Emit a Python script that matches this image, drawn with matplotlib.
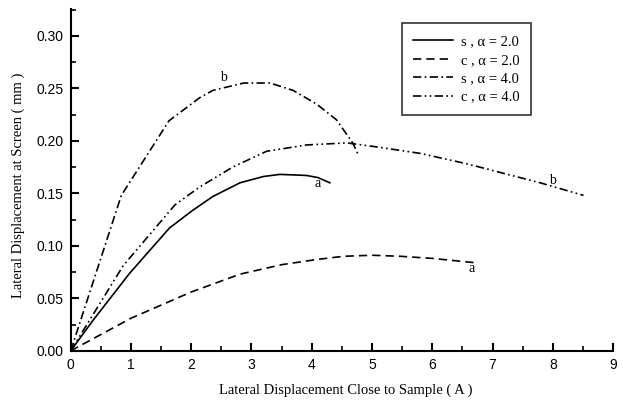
import matplotlib.pyplot as plt
from matplotlib.ticker import MultipleLocator, FormatStrFormatter

# s , alpha = 2.0 (solid)
s2_x = [0.0, 0.37, 0.98, 1.64, 2.03, 2.36, 2.81, 3.2, 3.47, 3.91, 4.1, 4.3]
s2_y = [0.0, 0.029, 0.074, 0.117, 0.134, 0.147, 0.160, 0.166, 0.168, 0.167, 0.165, 0.160]

# c , alpha = 2.0 (dashed)
c2_x = [0.0, 1.0, 2.0, 2.81, 3.5, 4.09, 4.53, 5.0, 5.47, 6.0, 6.69]
c2_y = [0.0, 0.031, 0.056, 0.073, 0.082, 0.087, 0.090, 0.091, 0.090, 0.088, 0.084]

# s , alpha = 4.0 (dash-dot)
s4_x = [0.0, 0.84, 1.63, 2.14, 2.36, 2.87, 3.31, 3.69, 4.08, 4.41, 4.68, 4.77]
s4_y = [0.0, 0.148, 0.219, 0.241, 0.248, 0.255, 0.255, 0.248, 0.235, 0.220, 0.198, 0.187]

# c , alpha = 4.0 (dash-dot-dot)
c4_x = [0.0, 0.87, 1.73, 2.14, 2.69, 3.25, 3.91, 4.58, 5.1, 5.8, 6.58, 7.79, 8.51]
c4_y = [0.0, 0.081, 0.139, 0.156, 0.175, 0.190, 0.196, 0.198, 0.194, 0.188, 0.178, 0.160, 0.148]

labels = ["s , \u03b1 = 2.0", "c , \u03b1 = 2.0", "s , \u03b1 = 4.0", "c , \u03b1 = 4.0"]

fig = plt.figure(figsize=(6.23, 4.0), dpi=100)
ax = fig.add_axes([0.1135, 0.123, 0.8705, 0.8545])

lw = 1.2
ax.plot(s2_x, s2_y, color="black", lw=lw, ls="-", label=labels[0])
ax.plot(c2_x, c2_y, color="black", lw=lw, ls=(0, (5, 3)), label=labels[1])
ax.plot(s4_x, s4_y, color="black", lw=lw, ls=(0, (5, 2, 1, 2)), label=labels[2])
ax.plot(c4_x, c4_y, color="black", lw=lw, ls=(0, (5, 2, 1, 2, 1, 2)), label=labels[3])

# curve labels
ax.text(2.53, 0.260, "b", family="Liberation Serif", fontsize=10, ha="center", va="center")
ax.text(8.0, 0.162, "b", family="Liberation Serif", fontsize=10, ha="center", va="center")
ax.text(4.1, 0.159, "a", family="Liberation Serif", fontsize=10, ha="center", va="center")
ax.text(6.65, 0.078, "a", family="Liberation Serif", fontsize=10, ha="center", va="center")

ax.set_xlim(0, 9)
ax.set_ylim(0, 0.3255)
ax.xaxis.set_major_locator(MultipleLocator(1))
ax.xaxis.set_minor_locator(MultipleLocator(0.5))
ax.yaxis.set_major_locator(MultipleLocator(0.05))
ax.yaxis.set_minor_locator(MultipleLocator(0.025))
ax.yaxis.set_major_formatter(FormatStrFormatter("%.2f"))

for sp in ["top", "right"]:
    ax.spines[sp].set_visible(False)
for sp in ["left", "bottom"]:
    ax.spines[sp].set_linewidth(1.5)

ax.tick_params(which="major", direction="in", length=6, width=1.5, pad=5,
               labelsize=10, labelfontfamily="Liberation Sans")
ax.tick_params(which="minor", direction="in", length=3.5, width=1.2)

ax.set_xlabel("Lateral Displacement Close to Sample ( A )", family="Liberation Serif",
              fontsize=10.5)
ax.set_ylabel("Lateral Displacement at Screen ( mm )", family="Liberation Serif",
              fontsize=10.5)
ax.xaxis.set_label_coords(0.508, -0.097)
ax.yaxis.set_label_coords(-0.085, 0.485)

leg = ax.legend(loc="upper left", bbox_to_anchor=(0.61, 0.958), frameon=True,
                fancybox=False, edgecolor="black", handlelength=2.75,
                prop={"family": "Liberation Serif", "size": 10.5},
                labelspacing=0.36, borderpad=0.8, handletextpad=0.5,
                borderaxespad=0)
leg.get_frame().set_linewidth(1.2)

fig.savefig("out.png", dpi=100)
